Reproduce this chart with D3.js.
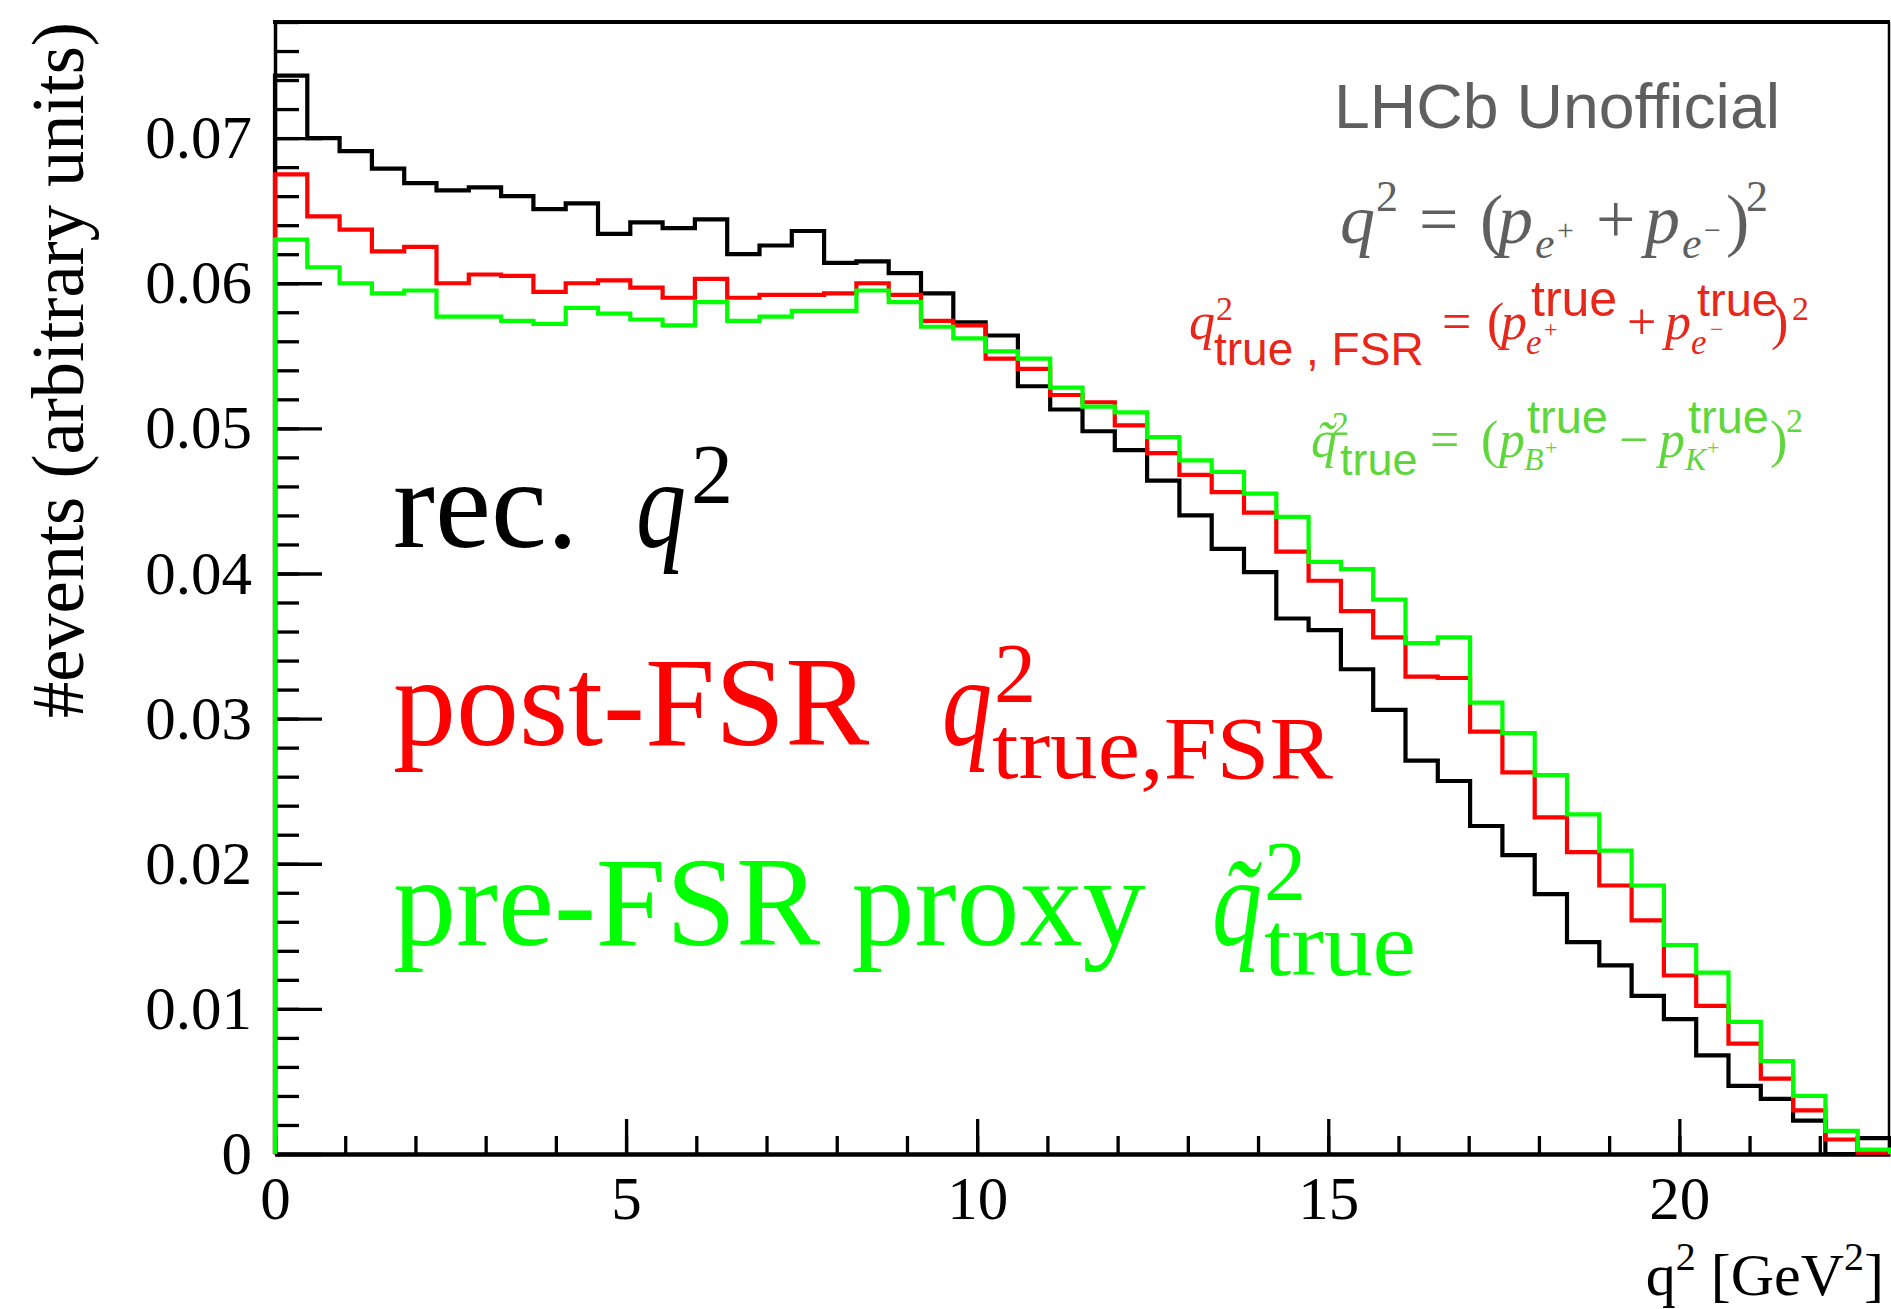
<!DOCTYPE html>
<html>
<head>
<meta charset="utf-8">
<script src="https://cdn.jsdelivr.net/npm/d3@7"></script>
<style>
body{margin:0;background:#fff;}
svg{display:block;}
</style>
</head>
<body>
<svg id="svg1" width="1891" height="1309"></svg>
<script>
// histogram: 50 bins of q2 between 0 and 23 GeV2
var binLow = 0, binHigh = 23, nBins = 50;

// rec. q2 (black)
var recQ2 = [0.0743,0.0700,0.0691,0.0679,0.0669,0.0664,0.0666,0.0660,0.0651,0.0655,
             0.0634,0.0642,0.0638,0.0644,0.0620,0.0626,0.0636,0.0614,0.0615,0.0607,
             0.0593,0.0573,0.0564,0.0529,0.0513,0.0498,0.0485,0.0464,0.0440,0.0417,
             0.0401,0.0369,0.0361,0.0334,0.0306,0.0271,0.0257,0.0226,0.0206,0.0179,
             0.0146,0.0130,0.0109,0.0093,0.0068,0.0047,0.0038,0.0023,0.0000,0.0011];
// post-FSR q2 true (red)
var postFSR = [0.0675,0.0646,0.0637,0.0622,0.0625,0.0600,0.0606,0.0605,0.0594,0.0600,
               0.0602,0.0597,0.0590,0.0603,0.0590,0.0592,0.0592,0.0593,0.0600,0.0592,
               0.0574,0.0571,0.0548,0.0541,0.0523,0.0518,0.0502,0.0483,0.0468,0.0456,
               0.0442,0.0415,0.0395,0.0374,0.0356,0.0329,0.0328,0.0291,0.0263,0.0232,
               0.0208,0.0185,0.0161,0.0123,0.0102,0.0076,0.0052,0.0030,0.0010,0.0001];
// pre-FSR proxy (green)
var preFSR = [0.0630,0.0611,0.0600,0.0593,0.0595,0.0577,0.0577,0.0574,0.0572,0.0583,
              0.0579,0.0575,0.0571,0.0587,0.0574,0.0577,0.0581,0.0581,0.0595,0.0587,
              0.0570,0.0562,0.0553,0.0548,0.0528,0.0515,0.0511,0.0494,0.0478,0.0470,
              0.0455,0.0439,0.0408,0.0403,0.0382,0.0352,0.0356,0.0311,0.0290,0.0261,
              0.0234,0.0209,0.0185,0.0144,0.0125,0.0091,0.0064,0.0040,0.0016,0.0003];

var yMajor = [0, 0.01, 0.02, 0.03, 0.04, 0.05, 0.06, 0.07];
var xMajor = [0, 5, 10, 15, 20];
var yMax = 0.078;

var serif = "'Liberation Serif','Times New Roman',serif";
var sans = "'Liberation Sans',Arial,Helvetica,sans-serif";

var svg = d3.select("#svg1");
var x = d3.scaleLinear().domain([binLow, binHigh]).range([275, 1890]);
var y = d3.scaleLinear().domain([0, yMax]).range([1154, 22]);

// frame top / right
svg.append("line").attr("x1", 273).attr("x2", 1890).attr("y1", 22).attr("y2", 22)
    .attr("stroke", "#000").attr("stroke-width", 4);
svg.append("line").attr("x1", 1889).attr("x2", 1889).attr("y1", 22).attr("y2", 1154)
    .attr("stroke", "#000").attr("stroke-width", 2.5);

// minor ticks
svg.append("g").attr("transform", "translate(275,0)")
    .call(d3.axisLeft(y).tickValues(d3.range(0, yMax + 1e-9, 0.002)).tickSize(-24).tickFormat("").tickSizeOuter(0))
    .call(g => g.select(".domain").remove())
    .call(g => g.selectAll("line").attr("stroke-width", 3.3));
svg.append("g").attr("transform", "translate(0,1154)")
    .call(d3.axisBottom(x).tickValues(d3.range(0, binHigh + 1e-9, 1)).tickSize(-18).tickFormat("").tickSizeOuter(0))
    .call(g => g.select(".domain").remove())
    .call(g => g.selectAll("line").attr("stroke-width", 3.3));

// major ticks + labels
var yAxis = svg.append("g").attr("transform", "translate(275,0)")
    .call(d3.axisLeft(y).tickValues(yMajor).tickSize(-47).tickPadding(23).tickSizeOuter(0)
        .tickFormat(d => d === 0 ? "0" : d3.format(".2f")(d)));
yAxis.select(".domain").attr("stroke-width", 3.5);
yAxis.selectAll("line").attr("stroke-width", 3.3);
yAxis.selectAll("text").attr("font-family", serif).attr("font-size", 61).attr("fill", "#000");

var xAxis = svg.append("g").attr("transform", "translate(0,1154)")
    .call(d3.axisBottom(x).tickValues(xMajor).tickSize(-35).tickPadding(22).tickSizeOuter(0));
xAxis.select(".domain").attr("stroke-width", 4.5);
xAxis.selectAll("line").attr("stroke-width", 3.3);
xAxis.selectAll("text").attr("font-family", serif).attr("font-size", 61).attr("fill", "#000");

// histograms
var binW = (binHigh - binLow) / nBins;
function histPts(vals){
    var pts = [[binLow, 0]];
    vals.forEach((v, i) => pts.push([binLow + i * binW, v]));
    pts.push([binHigh, vals[vals.length - 1]]);
    pts.push([binHigh, 0]);
    return pts;
}
var line = d3.line().x(d => x(d[0])).y(d => y(d[1])).curve(d3.curveStepAfter);
[[recQ2, "#000000"], [postFSR, "#ff0000"], [preFSR, "#00ff00"]].forEach(function(s){
    svg.append("path").attr("d", line(histPts(s[0])))
        .attr("fill", "none").attr("stroke", s[1]).attr("stroke-width", 4.2)
        .attr("stroke-linejoin", "miter");
});

// one <text> per label, pieces placed as tspans: [string, x, y, size, opts]
function rich(color, pieces){
    var t = svg.append("text").attr("fill", color).attr("font-family", serif);
    pieces.forEach(function(p){
        var o = p[4] || {};
        var s = t.append("tspan").attr("x", p[1]).attr("y", p[2]).attr("font-size", p[3]).text(p[0]);
        if(o.it) s.attr("font-style", "italic");
        if(o.sans) s.attr("font-family", sans);
        if(o.len) s.attr("textLength", o.len).attr("lengthAdjust", "spacingAndGlyphs");
    });
    return t;
}
var IT = {it: true}, SANS = {sans: true};

// axis titles
svg.append("text").attr("transform", "translate(83,22) rotate(-90)")
    .attr("text-anchor", "end").attr("font-family", serif).attr("font-size", 74)
    .attr("textLength", 696).attr("lengthAdjust", "spacingAndGlyphs")
    .text("#events (arbitrary units)");
var xt = svg.append("text").attr("x", 1884).attr("y", 1295).attr("text-anchor", "end")
    .attr("font-family", serif).attr("font-size", 60);
xt.append("tspan").text("q");
xt.append("tspan").attr("dy", -25).attr("font-size", 40).text("2");
xt.append("tspan").attr("dy", 25).text(" [GeV");
xt.append("tspan").attr("dy", -25).attr("font-size", 40).text("2");
xt.append("tspan").attr("dy", 25).text("]");

// legend
rich("#000000", [
    ["rec.", 393, 547, 126],
    ["q", 636, 547, 126, {it: true, len: 50}],
    ["2", 691, 503, 84]
]);
rich("#ff0000", [
    ["post-FSR", 393, 745, 126],
    ["q", 942, 745, 126, {it: true, len: 50}],
    ["2", 994, 702, 84],
    ["true,FSR", 992, 778, 88, {len: 341}]
]);
rich("#00ff00", [
    ["pre-FSR proxy", 393, 945, 126],
    ["q\u0303", 1212, 945, 126, {it: true, len: 50}],
    ["2", 1264, 900, 84],
    ["true", 1264, 975, 90, {len: 152}]
]);

// LHCb label and formulas
svg.append("text").attr("x", 1334).attr("y", 128).attr("fill", "#5f5f5f")
    .attr("font-family", sans).attr("font-size", 63)
    .attr("textLength", 446).attr("lengthAdjust", "spacingAndGlyphs")
    .text("LHCb Unofficial");

rich("#5f5f5f", [
    ["q", 1340, 243, 70, IT],
    ["2", 1376, 211, 44],
    ["=", 1419, 243, 70],
    ["(", 1480, 243, 70],
    ["p", 1498, 243, 70, IT],
    ["e", 1535, 258, 44, IT],
    ["+", 1557, 240, 30],
    ["+", 1596, 243, 70],
    ["p", 1645, 243, 70, IT],
    ["e", 1682, 258, 44, IT],
    ["\u2212", 1704, 240, 30],
    [")", 1726, 243, 70],
    ["2", 1746, 211, 44]
]);

rich("#e8261a", [
    ["q", 1189, 339, 52, IT],
    ["2", 1216, 320, 34],
    ["true , FSR", 1214, 365, 46, SANS],
    ["=", 1442, 339, 52],
    ["(", 1487, 339, 52],
    ["p", 1501, 339, 52, IT],
    ["e", 1526, 354, 35, IT],
    ["+", 1544, 337, 24],
    ["true", 1531, 316, 50, SANS],
    ["+", 1627, 339, 52],
    ["p", 1665, 339, 52, IT],
    ["e", 1691, 354, 35, IT],
    ["\u2212", 1710, 337, 24],
    ["true", 1697, 316, 47, SANS],
    [")", 1771, 339, 52],
    ["2", 1792, 320, 34]
]);

rich("#5fd73c", [
    ["q\u0303", 1311, 457, 52, IT],
    ["2", 1332, 435, 34],
    ["true", 1340, 475, 45, SANS],
    ["=", 1430, 457, 52],
    ["(", 1481, 457, 52],
    ["p", 1499, 457, 52, IT],
    ["B", 1524, 470, 32, IT],
    ["+", 1545, 455, 22],
    ["true", 1527, 433, 47, SANS],
    ["\u2212", 1619, 457, 52],
    ["p", 1659, 457, 52, IT],
    ["K", 1685, 470, 32, IT],
    ["+", 1707, 455, 22],
    ["true", 1688, 433, 47, SANS],
    [")", 1770, 457, 52],
    ["2", 1786, 432, 34]
]);
</script>
</body>
</html>
